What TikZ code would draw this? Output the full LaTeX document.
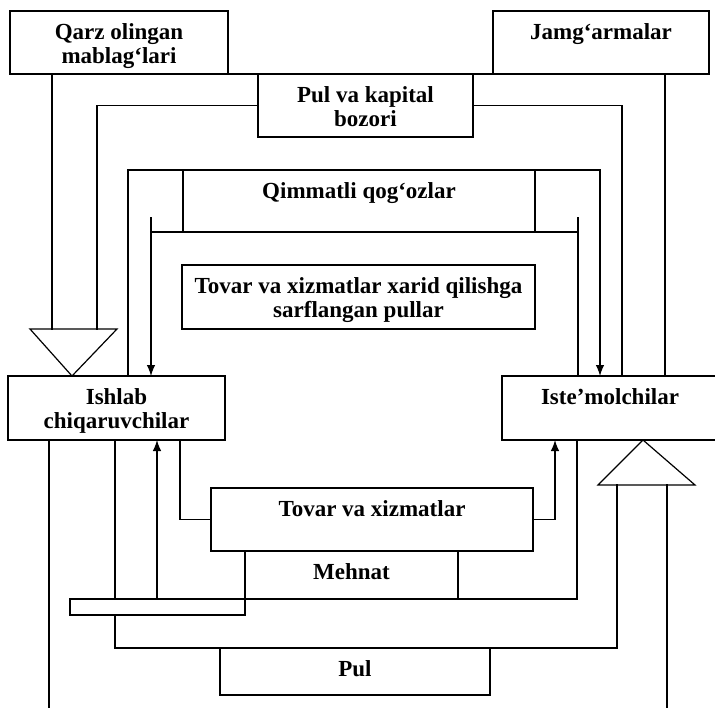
\documentclass[tikz,border=0pt]{standalone}
\usepackage{fontspec}
\setmainfont{Liberation Serif}
\usetikzlibrary{arrows.meta}
\newcommand\ikki[2]{\begin{tabular}[t]{@{}c@{}}#1\\#2\end{tabular}}
\tikzset{
  blok/.style={draw, line width=1.2pt, inner sep=0pt, outer sep=0pt, anchor=north west,
    text height=28pt, font=\fontsize{23}{24.5}\selectfont\bfseries},
}
\begin{document}
\begin{tikzpicture}[x=1pt, y=-1pt, line width=1.2pt, line cap=rect, >={Latex[length=11pt,width=8.5pt]}]
\useasboundingbox (0,0) rectangle (715,707);
% boxes
\node[blok, minimum width=218pt, text depth=35pt] (qarz) at (10,11) {\ikki{Qarz olingan}{mablag‘lari}};
\node[blok, minimum width=216pt, text depth=35pt] (jamg) at (493,11) {Jamg‘armalar};
\node[blok, minimum width=215pt, text depth=35pt] (bozor) at (258,74) {\ikki{Pul va kapital}{bozori}};
\node[blok, minimum width=352pt, text depth=34pt] (qimmat) at (183,170) {Qimmatli qog‘ozlar};
\node[blok, minimum width=353pt, text depth=36pt] (xarid) at (182,265) {\ikki{Tovar va xizmatlar xarid qilishga}{sarflangan pullar}};
\node[blok, minimum width=217pt, text depth=36pt] (ishlab) at (8,376) {\ikki{Ishlab}{chiqaruvchilar}};
\node[blok, minimum width=216pt, text depth=36pt] (istemol) at (502,376) {Iste'molchilar};
\node[blok, minimum width=322pt, text depth=35pt] (tovar) at (211,488) {Tovar va xizmatlar};
\node[blok, minimum width=213pt, text depth=20pt] (mehnat) at (245,551) {Mehnat};
\node[blok, minimum width=270pt, text depth=19pt] (pul) at (220,648) {Pul};

\draw (qarz.south east) -- (bozor.north west);
\draw (bozor.north east) -- (jamg.south west);

% funnels
\coordinate (chapa) at (30,329); \coordinate (chapb) at (117,329);
\coordinate (onga) at (598,485); \coordinate (ongb) at (695,485);
\draw (chapa) -- (chapb) -- (72,0 |- ishlab.north) -- cycle;
\draw (onga) -- (ongb) -- (643,0 |- istemol.south) -- cycle;

% top flows
\draw (52,0 |- qarz.south) -- (52,0 |- chapa);
\draw (bozor.west) -| (97,0 |- chapa);
\draw (bozor.east) -| (622,0 |- istemol.north);
\draw (665,0 |- jamg.south) -- (665,0 |- istemol.north);
\draw[->] (128,0 |- ishlab.north) |- (qimmat.north) -| (600,0 |- istemol.north);
\draw[->] (151,218) -- (151,0 |- ishlab.north);
\draw (578,218) -- (578,0 |- istemol.north);
\draw (151,0 |- qimmat.south) -- (578,0 |- qimmat.south);

% bottom flows
\draw (49,0 |- ishlab.south) -- (49,712);
\draw (115,0 |- ishlab.south) -- (115,0 |- mehnat.south);
\draw (115,615) |- (pul.north) -| (617,0 |- onga);
\draw (667,0 |- onga) -- (667,712);
\draw (180,0 |- ishlab.south) |- (tovar.west);
\draw[->] (tovar.east) -| (555,0 |- istemol.south);
\draw[->] (157,0 |- mehnat.south) -- (157,0 |- ishlab.south);
\draw (577,0 |- istemol.south) -- (577,0 |- mehnat.south) -- (70,0 |- mehnat.south)
  -- (70,615) -- (245,615) -- (mehnat.south west);
\end{tikzpicture}
\end{document}
